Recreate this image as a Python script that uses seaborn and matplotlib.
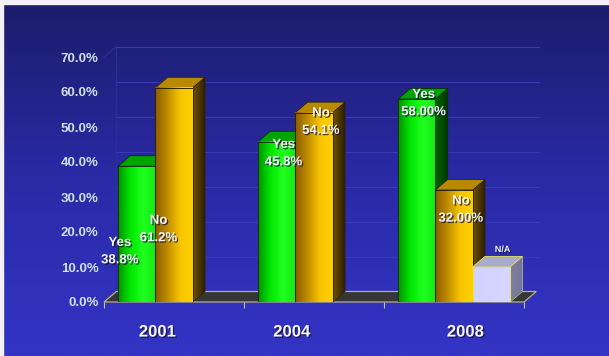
import numpy as np
import pandas as pd
import matplotlib
matplotlib.use("Agg")
import matplotlib.pyplot as plt
import matplotlib.patheffects as pe
from matplotlib.patches import Polygon, Rectangle
from matplotlib.colors import LinearSegmentedColormap, to_rgb
import seaborn as sns

# data
years = ["2001", "2004", "2008"]
answers = ["Yes", "No", "N/A"]
yes_pct = [38.8, 45.8, 58.0]
no_pct = [61.2, 54.1, 32.0]
na_pct = [None, None, 10.0]
yes_text = ["38.8%", "45.8%", "58.00%"]
no_text = ["61.2%", "54.1%", "32.00%"]
y_ticks = [0, 10, 20, 30, 40, 50, 60, 70]

# layout of the free text labels (data units)
yes_label_at = [(-0.12, 14.4), (0.05, 42.4), (0.05, 56.7)]
no_label_at = [(-0.11, 20.7), (0.05, 51.4), (0.05, 26.3)]
na_label_at = (0.08, 15.0)
year_label_shift = [-0.12, -0.16, 0.08]

rows = []
for i, yr in enumerate(years):
    for ans, vals in zip(answers, [yes_pct, no_pct, na_pct]):
        if vals[i] is not None:
            rows.append({"year": yr, "answer": ans, "pct": vals[i]})
df = pd.DataFrame(rows)

palette = {"Yes": "#00e000", "No": "#f0b800", "N/A": "#d4d4ff"}
front_cols = {"Yes": ["#009400", "#00e800", "#20ff20", "#14e814"],
              "No": ["#8a5c00", "#c08e00", "#f8c400", "#ffd000"],
              "N/A": ["#d2d2ff", "#d6d6ff"]}
side_cols = {"Yes": ["#006800", "#003400"],
             "No": ["#6e5000", "#281c00"],
             "N/A": ["#8080a4", "#74749a"]}
top_cols = {"Yes": "#00a400", "No": "#b88a00", "N/A": "#aaaacc"}
edge_cols = {"Yes": "#063006", "No": "#2e2200", "N/A": "#e4e45c"}

dx, dy = 0.088, 3.0

fig = plt.figure(figsize=(6.09, 3.56), dpi=100)

# background gradient
bg = fig.add_axes([0, 0, 1, 1], zorder=-5)
grad = np.linspace(0, 1, 256).reshape(-1, 1)
bg.imshow(grad, aspect="auto", extent=(0, 1, 0, 1), origin="upper",
          cmap=LinearSegmentedColormap.from_list("bg", ["#1c1c6a", "#2a2aa6", "#3434c6"]))
bg.set_axis_off()
fig.add_artist(Rectangle((0, 1 - 4 / 356), 1, 4 / 356, transform=fig.transFigure,
                         color="#f2f2f6", zorder=10))
fig.add_artist(Rectangle((0, 0), 3 / 609, 1, transform=fig.transFigure,
                         color="#f2f2f6", zorder=10))

ax = fig.add_axes([104 / 609, 54 / 356, 420 / 609, 245 / 356])
ax.set_facecolor("none")

sns.barplot(data=df, x="year", y="pct", hue="answer", order=years, hue_order=answers,
            palette=palette, saturation=1, width=0.8, dodge=True, legend=False, ax=ax,
            err_kws={"linewidth": 0})

# identify bars from the library's patches
bars = {}
for p in ax.patches:
    if p.get_height() <= 0 or np.isnan(p.get_height()):
        continue
    fc = p.get_facecolor()[:3]
    ans = min(answers, key=lambda a: np.sum((np.array(to_rgb(palette[a])) - fc) ** 2))
    gi = int(round(p.get_x() + p.get_width() / 2))
    bars[(gi, ans)] = p

# back wall, floor, grid
ax.add_patch(Polygon([(-0.5, 0), (2.5, 0), (2.5 + dx, dy), (-0.5 + dx, dy)], closed=True,
                     facecolor="#363636", edgecolor="#b4b484", lw=0.9, clip_on=False, zorder=1))
for t in y_ticks[1:]:
    ax.plot([-0.5 + dx, 2.52 + dx], [t + dy, t + dy], color="#3838b8", lw=0.8,
            clip_on=False, zorder=0.5)
ax.plot([-0.5, -0.5 + dx, -0.5 + dx], [70, 70 + dy, dy], color="#30309e", lw=0.7,
        clip_on=False, zorder=0.5)

# 3D faces
order = sorted(bars.items(), key=lambda kv: kv[1].get_x())
for k, ((gi, ans), p) in enumerate(order):
    z = 2 + k * 2
    x0 = p.get_x()
    w = p.get_width()
    x1 = x0 + w
    h = p.get_height()
    side = Polygon([(x1, 0), (x1 + dx, dy), (x1 + dx, h + dy), (x1, h)], closed=True,
                   facecolor=side_cols[ans][0], edgecolor=edge_cols[ans], lw=0.6,
                   clip_on=False, zorder=z)
    ax.add_patch(side)
    im = ax.imshow(np.linspace(0, 1, 64).reshape(1, -1), aspect="auto",
                   extent=(x1, x1 + dx, 0, h + dy), zorder=z + 0.1,
                   cmap=LinearSegmentedColormap.from_list("s", side_cols[ans]))
    im.set_clip_path(side)
    ax.add_patch(Polygon([(x0, h), (x0 + dx, h + dy), (x1 + dx, h + dy), (x1, h)], closed=True,
                         facecolor=top_cols[ans], edgecolor=edge_cols[ans], lw=0.6,
                         clip_on=False, zorder=z + 0.2))
    ax.imshow(np.linspace(0, 1, 64).reshape(1, -1), aspect="auto", extent=(x0, x1, 0, h),
              zorder=z + 1, cmap=LinearSegmentedColormap.from_list("f", front_cols[ans]))
    p.set_facecolor("none")
    p.set_edgecolor(edge_cols[ans])
    p.set_linewidth(0.7)
    p.set_zorder(z + 1.1)

# labels
shadow = [pe.withSimplePatchShadow(offset=(1, -1), shadow_rgbFace="#101030", alpha=0.7)]
for i in range(len(years)):
    for ans, txt, pos in [("Yes", yes_text[i], yes_label_at[i]), ("No", no_text[i], no_label_at[i])]:
        p = bars[(i, ans)]
        cx = p.get_x() + p.get_width() / 2
        ax.text(cx + pos[0], pos[1], f"{ans}\n{txt}", ha="center", va="center", color="#f6f6f6",
                fontsize=9.5, fontweight="bold", linespacing=1.6, zorder=50, path_effects=shadow,
                fontfamily="Liberation Sans")
p = bars[(2, "N/A")]
ax.text(p.get_x() + p.get_width() / 2 + na_label_at[0], na_label_at[1], "N/A", ha="center",
        va="center", color="#f6f6f6", fontsize=6.5, fontweight="bold", zorder=50,
        path_effects=shadow, fontfamily="Liberation Sans")
for i, yr in enumerate(years):
    ax.text(i + year_label_shift[i], -8.6, yr, ha="center", va="center", color="#f6f6f6",
            fontsize=12, fontweight="bold", fontfamily="Liberation Sans", path_effects=shadow)

ax.set_xlim(-0.5, 2.5)
ax.set_ylim(0, 70)
ax.set_xticks([-0.5, 0.5, 1.5, 2.5])
ax.set_xticklabels([])
ax.set_yticks(y_ticks)
ax.set_yticklabels([f"{t:.1f}%" for t in y_ticks], fontsize=9.5, fontweight="bold",
                   color="#cfe2e2", fontfamily="Liberation Sans")
ax.tick_params(axis="x", length=4, color="#c4c49a", width=0.8)
ax.tick_params(axis="y", length=0, pad=4)
ax.set_xlabel("")
ax.set_ylabel("")
for s in ax.spines.values():
    s.set_visible(False)

fig.savefig("out.png", dpi=100)
